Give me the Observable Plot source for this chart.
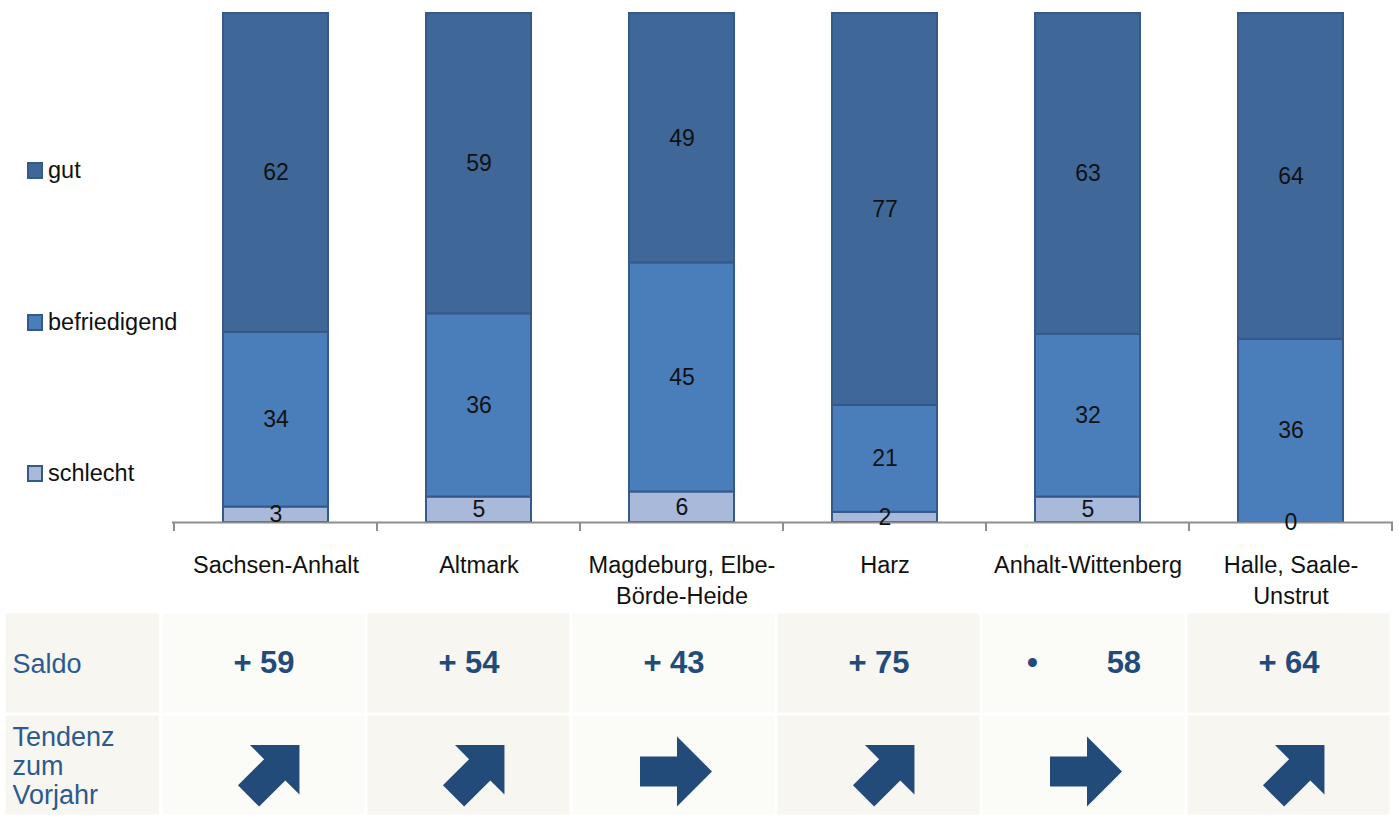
<!DOCTYPE html>
<html><head><meta charset="utf-8">
<script src="https://cdn.jsdelivr.net/npm/d3@7"></script>
<script src="https://cdn.jsdelivr.net/npm/@observablehq/plot@0.6"></script>
<style>
html,body{margin:0;padding:0;background:#fff;width:1399px;height:818px;overflow:hidden;}
#wrap{position:relative;width:1399px;height:818px;}
#legend{position:absolute;left:0;top:0;font-family:"Liberation Sans",Arial,sans-serif;font-size:23.5px;color:#111;}
.li{position:absolute;left:27px;height:34px;display:flex;align-items:center;white-space:nowrap;}
.sw{box-sizing:border-box;width:16px;height:17px;border:2px solid #34598A;margin-right:5px;}
#table{display:flex;}
svg{display:block;}
</style></head><body>
<div id="wrap"><div id="chart"></div><div id="table"></div><div id="legend"></div></div>
<script>
// ---- data ----
const regions = ["Sachsen-Anhalt","Altmark","Magdeburg","Harz","Anhalt-Wittenberg","Halle"];
const regionLabels = ["Sachsen-Anhalt","Altmark","Magdeburg, Elbe-\nBörde-Heide","Harz","Anhalt-Wittenberg","Halle, Saale-\nUnstrut"];
const categories = ["schlecht","befriedigend","gut"];
const schlecht     = [3, 5, 6, 2, 5, 0];
const befriedigend = [34, 36, 45, 21, 32, 36];
const gut          = [62, 59, 49, 77, 63, 64];
const saldo = ["+ 59","+ 54","+ 43","+ 75","\u2022\u00a0\u00a0\u00a0\u00a0\u00a0\u00a0\u00a0\u00a058","+ 64"];
const tendenz = ["up","up","right","up","right","up"];
const rowKeys = ["Saldo","Tendenz"];
const rowLabels = ["Saldo","Tendenz\nzum\nVorjahr"];
const legendOrder = ["gut","befriedigend","schlecht"];

// ---- build ----
const seriesByCat = {schlecht, befriedigend, gut};
const data = [];
categories.forEach(c => regions.forEach((r, i) => data.push({region: r, cat: c, value: seriesByCat[c][i]})));
const colors = {schlecht: "#A8B9D9", befriedigend: "#4A7EBB", gut: "#3F6898"};
const sans = '"Liberation Sans",Arial,sans-serif';

const bandTicks = (index, scales, values, dimensions) => {
  const x = scales.x, y0 = scales.y(0);
  const bw = x.bandwidth(), step = x.step();
  const off = (step - bw) / 2;
  const xs = regions.map(r => x(r) - off);
  xs.push(x(regions[regions.length - 1]) + bw + off);
  const g = d3.create("svg:g").attr("stroke", "#8E8E8E").attr("stroke-width", 2);
  xs.forEach(v => g.append("line").attr("x1", v).attr("x2", v).attr("y1", y0).attr("y2", y0 + 9));
  return g.node();
};

const chart = Plot.plot({
  width: 1399, height: 610,
  marginLeft: 172, marginRight: 6, marginTop: 13, marginBottom: 88,
  x: {domain: regions, paddingInner: 0.484, paddingOuter: 0.242, axis: null},
  y: {domain: [0, 1], axis: null},
  color: {domain: categories, range: categories.map(c => colors[c])},
  style: {fontFamily: sans, background: "transparent", overflow: "visible"},
  marks: [
    Plot.barY(data, Plot.stackY({x: "region", y: "value", fill: "cat", offset: "normalize", stroke: "#34598A", strokeWidth: 2})),
    Plot.ruleY([0], {stroke: "#8E8E8E", strokeWidth: 2}),
    bandTicks,
    Plot.text(data, Plot.stackY({x: "region", y: "value", z: "cat", offset: "normalize", text: d => String(d.value), fontSize: 23, fill: "#111"})),
    Plot.text(regions, {x: d => d, text: (d, i) => regionLabels[i], frameAnchor: "bottom", lineAnchor: "top", dy: 28, fontSize: 23.5, lineHeight: 1.32, fill: "#111"})
  ]
});
document.getElementById("chart").append(chart);

// legend
const leg = document.getElementById("legend");
const legY = {gut: 170.5, befriedigend: 322, schlecht: 473.5};
legendOrder.forEach(c => {
  const d = document.createElement("div");
  d.className = "li";
  d.style.top = (legY[c] - 17) + "px";
  d.innerHTML = `<span class="sw" style="background:${colors[c]}"></span><span>${c}</span>`;
  leg.append(d);
});

// table
const cellLight = "#FBFBF8", cellBeige = "#F7F6F1";
const leftTable = Plot.plot({
  width: 160, height: 208,
  marginLeft: 3.5, marginRight: 0, marginTop: 1.5, marginBottom: 1.5,
  x: {domain: ["label"], padding: 0, axis: null},
  y: {domain: rowKeys, padding: 0, axis: null},
  color: {type: "identity"},
  style: {fontFamily: sans, background: "transparent"},
  marks: [
    Plot.cell(rowKeys, {x: () => "label", y: d => d, fill: cellBeige, insetLeft: 1.5, insetRight: 1, insetTop: 1.5, insetBottom: 1.5}),
    Plot.text(rowKeys, {y: d => d, text: (d, i) => rowLabels[i], frameAnchor: "left", textAnchor: "start", dx: 8.5, fontSize: 27, lineHeight: 1.09, fill: "#2C5A8F"})
  ]
});

const cells = [];
rowKeys.forEach(rk => regions.forEach((r, j) => cells.push({row: rk, region: r, j})));
const blockArrow = {
  draw(context, l) {
    const hl = 35, hw = 35, sw = 15;
    context.moveTo(-sw, 0);
    context.lineTo(-sw, -(l - hl));
    context.lineTo(-hw, -(l - hl));
    context.lineTo(0, -l);
    context.lineTo(hw, -(l - hl));
    context.lineTo(sw, -(l - hl));
    context.lineTo(sw, 0);
    context.closePath();
  }
};
const arrowOpts = {x: d => d, y: () => "Tendenz", length: 72, anchor: "middle", shape: blockArrow, fill: "#234B7A", stroke: "none"};
const rightTable = Plot.plot({
  width: 1239, height: 208,
  marginLeft: 0.5, marginRight: 7.5, marginTop: 1.5, marginBottom: 1.5,
  x: {domain: regions, padding: 0, axis: null},
  y: {domain: rowKeys, padding: 0, axis: null},
  color: {type: "identity"},
  style: {fontFamily: sans, background: "transparent"},
  marks: [
    Plot.cell(cells, {x: "region", y: "row", fill: d => d.j % 2 === 0 ? cellLight : cellBeige, inset: 1.5}),
    Plot.text(regions, {x: d => d, y: () => "Saldo", text: (d, i) => saldo[i], fontSize: 31, fontWeight: "bold", fill: "#234B7A"}),
    Plot.vector(regions, {...arrowOpts, filter: (d, i) => tendenz[i] === "up", rotate: 45, dx: 10, dy: 5}),
    Plot.vector(regions, {...arrowOpts, filter: (d, i) => tendenz[i] === "right", rotate: 90, dx: 2, dy: 6})
  ]
});
const tbl = document.getElementById("table");
tbl.append(leftTable, rightTable);
</script>
</body></html>
